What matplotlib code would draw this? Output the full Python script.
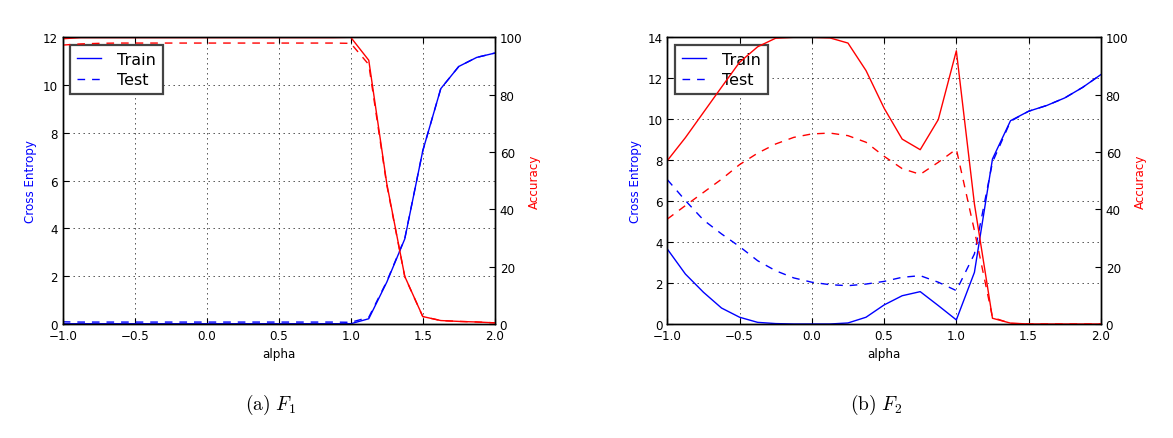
import numpy as np
import matplotlib
matplotlib.use("Agg")
import matplotlib.pyplot as plt

# wspolna os alpha (krok 0.125)
alpha = [-1.0, -0.875, -0.75, -0.625, -0.5, -0.375, -0.25, -0.125, 0.0,
         0.125, 0.25, 0.375, 0.5, 0.625, 0.75, 0.875, 1.0,
         1.125, 1.25, 1.375, 1.5, 1.625, 1.75, 1.875, 2.0]

# (a) F1
f1_train_ce = [0.01, 0.01, 0.01, 0.01, 0.01, 0.01, 0.01, 0.01, 0.01,
               0.01, 0.01, 0.01, 0.01, 0.01, 0.01, 0.01, 0.01,
               0.22, 1.75, 3.56, 7.25, 9.85, 10.78, 11.16, 11.34]
f1_test_ce = [0.09, 0.08, 0.08, 0.08, 0.08, 0.08, 0.08, 0.08, 0.08,
              0.08, 0.08, 0.08, 0.08, 0.08, 0.08, 0.08, 0.07,
              0.28, 1.78, 3.58, 7.25, 9.85, 10.78, 11.16, 11.34]
f1_train_acc = [99.5, 99.9, 99.9, 99.9, 99.9, 99.9, 99.9, 99.9, 99.9,
                99.9, 99.9, 99.9, 99.9, 99.9, 99.9, 99.9, 100.0,
                92.0, 49.0, 16.6, 2.6, 1.2, 0.9, 0.7, 0.4]
f1_test_acc = [97.3, 97.7, 97.9, 98.0, 98.0, 98.0, 98.0, 98.0, 98.0,
               98.0, 98.0, 98.0, 98.0, 98.0, 98.0, 98.0, 97.9,
               90.5, 48.5, 16.5, 2.6, 1.2, 0.9, 0.7, 0.4]

# (b) F2
f2_train_ce = [3.66, 2.44, 1.55, 0.78, 0.33, 0.08, 0.02, 0.0, 0.0,
               0.0, 0.05, 0.33, 0.93, 1.38, 1.58, 0.9, 0.2,
               2.52, 8.06, 9.93, 10.39, 10.67, 11.04, 11.56, 12.18]
f2_test_ce = [7.05, 6.03, 5.08, 4.40, 3.78, 3.09, 2.60, 2.25, 2.04,
              1.92, 1.87, 1.95, 2.08, 2.28, 2.36, 2.04, 1.63,
              3.42, 7.9, 9.9, 10.39, 10.67, 11.04, 11.56, 12.18]
f2_train_acc = [57.0, 65.0, 73.8, 82.6, 91.3, 96.7, 99.7, 100.0, 100.0,
                99.8, 98.0, 88.4, 75.3, 64.5, 60.8, 71.3, 95.3,
                41.9, 2.0, 0.3, 0.0, 0.0, 0.0, 0.0, 0.0]
f2_test_acc = [36.6, 41.3, 45.9, 50.5, 55.6, 59.6, 62.8, 65.1, 66.3,
               66.6, 65.7, 63.4, 58.5, 54.2, 52.2, 56.4, 61.0,
               32.6, 2.3, 0.2, 0.0, 0.0, 0.0, 0.0, 0.0]

panels = [
    ("(a)", "F_1", f1_train_ce, f1_test_ce, f1_train_acc, f1_test_acc, 12),
    ("(b)", "F_2", f2_train_ce, f2_test_ce, f2_train_acc, f2_test_acc, 14),
]

plt.rcParams.update({
    "font.family": "DejaVu Sans",
    "mathtext.fontset": "cm",
    "xtick.direction": "in",
    "ytick.direction": "in",
    "xtick.top": True,
    "xtick.major.size": 4,
    "ytick.major.size": 4,
    "axes.linewidth": 1.0,
    "lines.linewidth": 1.0,
    "lines.scale_dashes": False,
    "lines.dashed_pattern": [5.5, 5.0],
    "lines.dotted_pattern": [1.0, 2.6],
    "grid.color": "k",
    "grid.linestyle": ":",
    "grid.linewidth": 0.5,
})

fig = plt.figure(figsize=(11.73, 4.39), dpi=100)
rects = [[0.0535, 0.2597, 0.3683, 0.653], [0.5689, 0.2597, 0.3696, 0.653]]
cap_x = [270 / 1173, 876 / 1173]
fs = 8.6

for k, (lab, fn, tr_ce, te_ce, tr_acc, te_acc, ymax) in enumerate(panels):
    ax = fig.add_axes(rects[k])
    ax.plot(alpha, tr_ce, "b-", label="Train")
    ax.plot(alpha, te_ce, "b--", label="Test")
    ax.set_xlim(-1, 2)
    ax.set_ylim(0, ymax)
    ax.set_xticks([-1.0, -0.5, 0.0, 0.5, 1.0, 1.5, 2.0])
    ax.set_xticklabels(["\u22121.0", "\u22120.5", "0.0", "0.5", "1.0", "1.5", "2.0"])
    ax.grid(True)
    ax.tick_params(labelsize=fs)
    ax.set_xlabel("alpha", fontsize=fs)
    ax.set_ylabel("Cross Entropy", color="b", fontsize=fs)
    leg = ax.legend(loc="upper left", fontsize=11.5, fancybox=False,
                    framealpha=1, handlelength=1.5, handletextpad=1.0,
                    borderpad=0.45, labelspacing=0.35, borderaxespad=0.45)
    leg.get_frame().set_edgecolor("#444444")
    leg.get_frame().set_linewidth(1.6)

    ax2 = ax.twinx()
    ax2.plot(alpha, tr_acc, "r-")
    ax2.plot(alpha, te_acc, "r--")
    ax2.set_ylim(0, 100)
    ax2.set_xlim(-1, 2)
    ax2.tick_params(labelsize=fs)
    ax2.set_ylabel("Accuracy", color="r", fontsize=fs)

    fig.text(cap_x[k], 0.077, r"$\mathrm{%s}\ %s$" % (lab, fn),
             ha="center", va="center", fontsize=14)

fig.savefig("out.png", dpi=100, facecolor="white")
